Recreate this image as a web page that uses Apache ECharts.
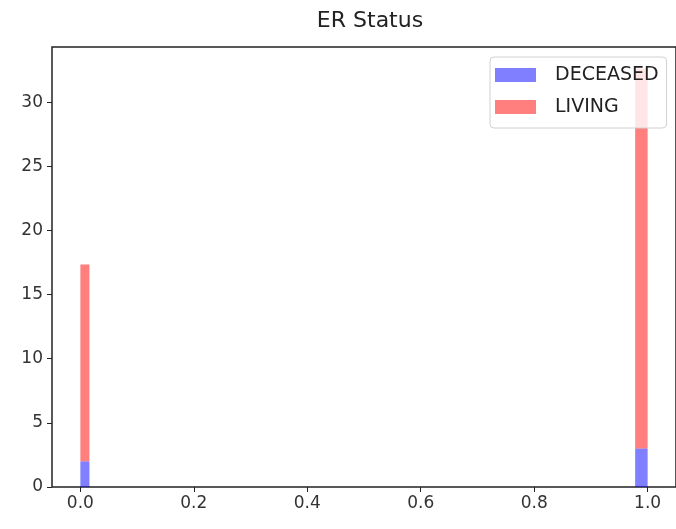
<!DOCTYPE html>
<html>
<head>
<meta charset="utf-8">
<script src="https://cdn.jsdelivr.net/npm/echarts@6/dist/echarts.min.js"></script>
<style>
  html, body { margin: 0; padding: 0; background: #fff; }
  #main { width: 676px; height: 529px; }
</style>
</head>
<body>
<div id="main"></div>
<script>
// histogram bins (left / right edge) and counts per class
var binLeft = [0.0, 0.978];
var binRight = [0.016, 1.0];
var deceased = [2, 3];
var living = [15.35, 29.6];
var xTicks = [0.0, 0.2, 0.4, 0.6, 0.8, 1.0];
var yTicks = [0, 5, 10, 15, 20, 25, 30];

var blue = 'rgba(0,0,255,0.5)';
var red = 'rgba(255,0,0,0.5)';

// rows: [x0, x1, yBottom, yTop]
function buildRows(base, vals) {
  return vals.map(function (v, i) {
    return [binLeft[i], binRight[i], base[i], base[i] + v];
  });
}
var zeros = deceased.map(function () { return 0; });

function renderBar(params, api) {
  var p0 = api.coord([api.value(0), api.value(3)]);
  var p1 = api.coord([api.value(1), api.value(2)]);
  return {
    type: 'rect',
    shape: { x: p0[0], y: p0[1], width: p1[0] - p0[0], height: p1[1] - p0[1] },
    style: api.style()
  };
}

var chart = echarts.init(document.getElementById('main'));
var font = 'DejaVu Sans';
var option = {
  animation: false,
  title: {
    text: 'ER Status',
    left: 365,
    top: 5,
    textAlign: 'center',
    textStyle: { fontFamily: font, fontSize: 22, fontWeight: 'normal', color: '#222' }
  },
  legend: {
    orient: 'vertical',
    left: 490,
    top: 57,
    padding: [8, 8, 11, 5],
    itemGap: 12,
    itemWidth: 41,
    itemHeight: 14,
    backgroundColor: 'rgba(255,255,255,0.8)',
    borderColor: '#d0d0d0',
    borderWidth: 1,
    borderRadius: 4,
    textStyle: { fontFamily: font, fontSize: 19, color: '#222', lineHeight: 20, padding: [0, 0, 0, 14] },
    data: [
      { name: 'DECEASED', icon: 'rect', itemStyle: { color: blue } },
      { name: 'LIVING', icon: 'rect', itemStyle: { color: red } }
    ]
  },
  grid: {
    left: 52,
    right: -2,
    top: 47,
    bottom: 42,
    show: true,
    borderColor: '#222',
    borderWidth: 1.5
  },
  xAxis: {
    type: 'value',
    min: -0.05,
    max: 1.05,
    splitLine: { show: false },
    axisLine: { show: false, onZero: false },
    axisTick: { show: true, length: 5, lineStyle: { color: '#222' }, customValues: xTicks },
    axisLabel: {
      customValues: xTicks,
      fontFamily: font, fontSize: 17, color: '#333', margin: 8,
      formatter: function (v) { return v.toFixed(1); }
    }
  },
  yAxis: {
    type: 'value',
    min: 0,
    max: 34.3,
    splitLine: { show: false },
    axisLine: { show: false, onZero: false },
    axisTick: { show: true, length: 5, lineStyle: { color: '#222' }, customValues: yTicks },
    axisLabel: { customValues: yTicks, fontFamily: font, fontSize: 17, color: '#333', margin: 9 }
  },
  series: [
    {
      name: 'DECEASED',
      type: 'custom',
      renderItem: renderBar,
      itemStyle: { color: blue },
      encode: { x: [0, 1], y: [2, 3] },
      data: buildRows(zeros, deceased),
      z: 2
    },
    {
      name: 'LIVING',
      type: 'custom',
      renderItem: renderBar,
      itemStyle: { color: red },
      encode: { x: [0, 1], y: [2, 3] },
      data: buildRows(deceased, living),
      z: 2
    }
  ]
};
chart.setOption(option);
</script>
</body>
</html>
